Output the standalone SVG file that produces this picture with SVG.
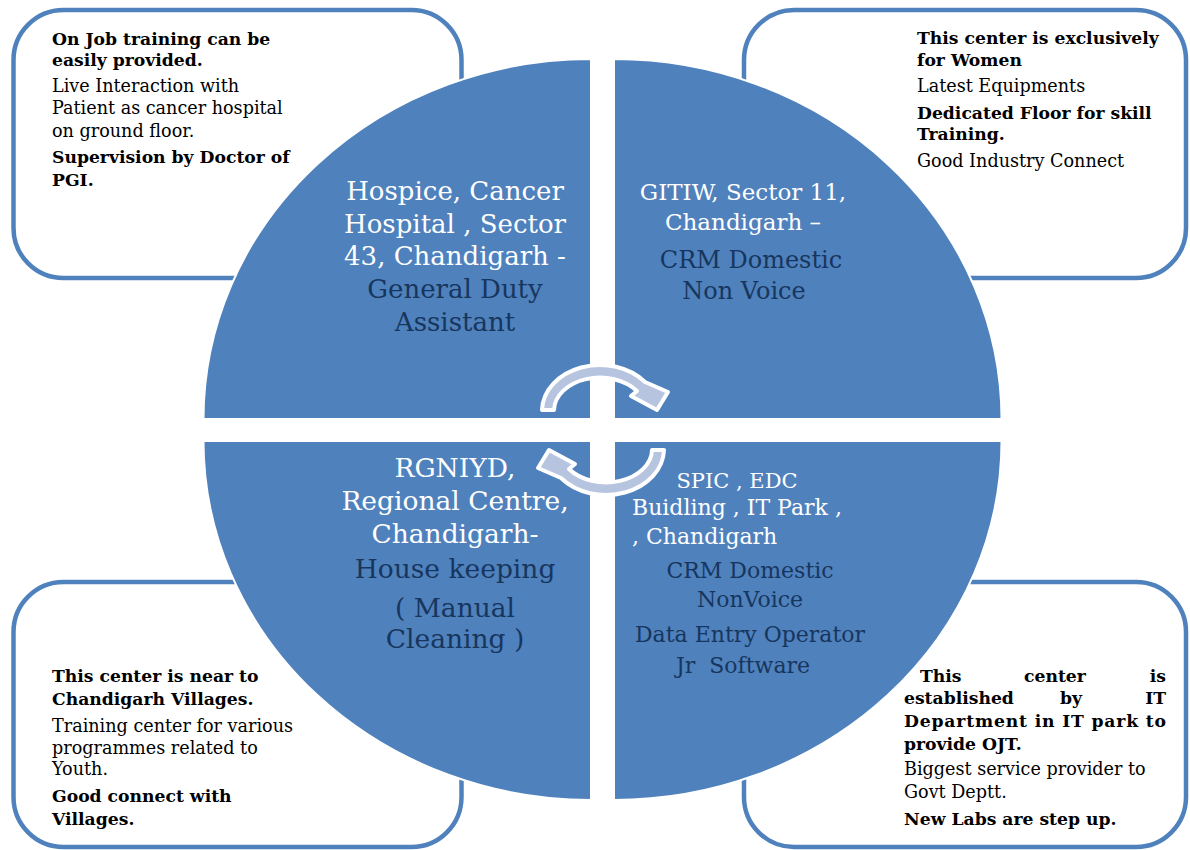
<svg xmlns="http://www.w3.org/2000/svg" width="1190" height="850" viewBox="0 0 1190 850">
<style>
.box{fill:#fff;stroke:#4F81BD;stroke-width:4.5}
.quad{fill:#4F81BD;stroke:#fff;stroke-width:2}
.arr{fill:#B6C4DF;stroke:#fff;stroke-width:4;stroke-linejoin:round}
.t{font-family:"DejaVu Serif","Liberation Serif",serif;font-size:17.6px;fill:#000}
.b{font-weight:bold;font-size:17.2px}
.q{font-family:"DejaVu Serif","Liberation Serif",serif;text-anchor:middle}
.qs{font-family:"DejaVu Serif","Liberation Serif",serif;text-anchor:start}
.w{fill:#fff}
.n{fill:#17365D}
.s26{font-size:26px}
.s23{font-size:23px}
.s24{font-size:24px}
.s265{font-size:26.5px}
.s21{font-size:21px}
.s22{font-size:22px}
</style>
<rect width="1190" height="850" fill="#fff"/>
<g id="box-tl"><rect class="box" x="13.5" y="10" width="448" height="268" rx="50"/></g>
<g id="box-tr"><rect class="box" x="744" y="10" width="442" height="268" rx="50"/></g>
<g id="box-bl"><rect class="box" x="13.5" y="582" width="448" height="265" rx="50"/></g>
<g id="box-br"><rect class="box" x="744" y="582" width="442" height="265" rx="50"/></g>
<g id="q-tl"><path class="quad" d="M591 419 L203.5 419 A387.5 360 0 0 1 591 59 Z"/></g>
<g id="q-tr"><path class="quad" d="M614 419 L614 59 A387.5 360 0 0 1 1001.5 419 Z"/></g>
<g id="q-bl"><path class="quad" d="M591 441 L591 800 A387.5 359 0 0 1 203.5 441 Z"/></g>
<g id="q-br"><path class="quad" d="M614 441 L1001.5 441 A387.5 359 0 0 1 614 800 Z"/></g>
<g id="connectors">
<path class="arr" d="M542 410 A58 46 0 0 1 645 382 L668 392 L657 410 L631 396 L637 391 A46 33 0 0 0 554 410 Z"/>
<path class="arr" transform="rotate(180 603 430)" d="M542 410 A58 46 0 0 1 645 382 L668 392 L657 410 L631 396 L637 391 A46 33 0 0 0 554 410 Z"/>
</g>
<g id="text-tl">
<text class="t b" x="52" y="45">On Job training can be</text>
<text class="t b" x="52" y="66">easily provided.</text>
<text class="t" x="52" y="92">Live Interaction with</text>
<text class="t" x="52" y="114">Patient as cancer hospital</text>
<text class="t" x="52" y="137">on ground floor.</text>
<text class="t b" x="52" y="163">Supervision by Doctor of</text>
<text class="t b" x="52" y="186">PGI.</text>
</g>
<g id="text-tr">
<text class="t b" x="917" y="44">This center is exclusively</text>
<text class="t b" x="917" y="66">for Women</text>
<text class="t" x="917" y="92">Latest Equipments</text>
<text class="t b" x="917" y="119">Dedicated Floor for skill</text>
<text class="t b" x="917" y="140">Training.</text>
<text class="t" x="917" y="167">Good Industry Connect</text>
</g>
<g id="text-bl">
<text class="t b" x="52" y="682">This center is near to</text>
<text class="t b" x="52" y="705">Chandigarh Villages.</text>
<text class="t" x="52" y="732">Training center for various</text>
<text class="t" x="52" y="754">programmes related to</text>
<text class="t" x="52" y="775">Youth.</text>
<text class="t b" x="52" y="802">Good connect with</text>
<text class="t b" x="52" y="825">Villages.</text>
</g>
<g id="text-br">
<text class="t b" x="920" y="682">This</text>
<text class="t b" x="1024" y="682">center</text>
<text class="t b" x="1166" y="682" text-anchor="end">is</text>
<text class="t b" x="904" y="704">established</text>
<text class="t b" x="1060" y="704">by</text>
<text class="t b" x="1166" y="704" text-anchor="end">IT</text>
<text class="t b" x="904" y="727" textLength="262" lengthAdjust="spacing">Department in IT park to</text>
<text class="t b" x="904" y="750">provide OJT.</text>
<text class="t" x="904" y="775">Biggest service provider to</text>
<text class="t" x="904" y="798">Govt Deptt.</text>
<text class="t b" x="904" y="825">New Labs are step up.</text>
</g>
<g id="label-tl">
<text class="q w s26" x="455" y="200">Hospice, Cancer</text>
<text class="q w s26" x="455" y="233">Hospital , Sector</text>
<text class="q w s26" x="455" y="265">43, Chandigarh -</text>
<text class="q n s26" x="455" y="298">General Duty</text>
<text class="q n s26" x="455" y="331">Assistant</text>
</g>
<g id="label-tr">
<text class="q w s23" x="743" y="200">GITIW, Sector 11,</text>
<text class="q w s23" x="743" y="230">Chandigarh –</text>
<text class="q n s24" x="751" y="268">CRM Domestic</text>
<text class="q n s24" x="744" y="299">Non Voice</text>
</g>
<g id="label-bl">
<text class="q w s265" x="455" y="477">RGNIYD,</text>
<text class="q w s265" x="455" y="510">Regional Centre,</text>
<text class="q w s265" x="455" y="543">Chandigarh-</text>
<text class="q n s265" x="455" y="578">House keeping</text>
<text class="q n s265" x="455" y="617">( Manual</text>
<text class="q n s265" x="455" y="648">Cleaning )</text>
</g>
<g id="label-br">
<text class="q w s21" x="737" y="488">SPIC , EDC</text>
<text class="qs w s22" x="632" y="515">Buidling , IT Park ,</text>
<text class="qs w s22" x="632" y="544">, Chandigarh</text>
<text class="q n s22" x="750" y="578">CRM Domestic</text>
<text class="q n s22" x="750" y="607">NonVoice</text>
<text class="q n s22" x="750" y="642">Data Entry Operator</text>
<text class="q n s22" x="743" y="673">Jr&#160; Software</text>
</g>
</svg>
